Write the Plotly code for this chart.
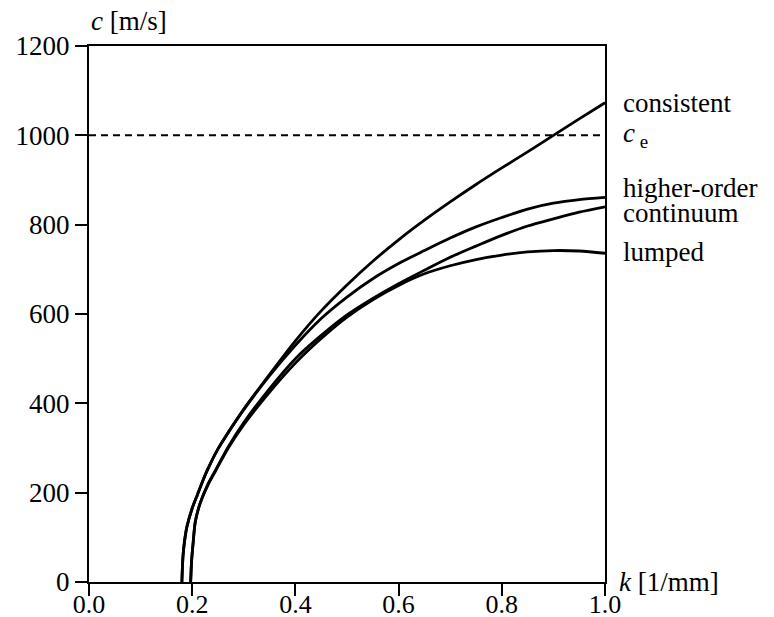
import plotly.graph_objects as go

# ---- data ----
k_cons = [0.180, 0.182, 0.185, 0.19, 0.20, 0.21, 0.22, 0.23, 0.25, 0.27, 0.30, 0.35, 0.40, 0.45,
          0.50, 0.55, 0.60, 0.65, 0.70, 0.75, 0.80, 0.85, 0.90, 0.95, 1.00]
c_cons = [0, 55, 90, 125, 165, 195, 225, 252, 298, 335, 387, 465, 540, 607,
          665, 718, 766, 810, 851, 890, 927, 963, 1000, 1037, 1073]

k_high = [0.180, 0.182, 0.185, 0.19, 0.20, 0.21, 0.22, 0.23, 0.25, 0.27, 0.30, 0.35, 0.40, 0.45,
          0.50, 0.55, 0.60, 0.65, 0.70, 0.75, 0.80, 0.85, 0.90, 0.95, 1.00]
c_high = [0, 55, 90, 125, 165, 195, 225, 252, 298, 335, 386, 462, 530, 590,
          638, 679, 713, 742, 770, 795, 816, 835, 848, 856, 861]

k_cont = [0.197, 0.199, 0.202, 0.206, 0.215, 0.23, 0.245, 0.27, 0.30, 0.35, 0.40, 0.45,
          0.50, 0.55, 0.60, 0.65, 0.70, 0.75, 0.80, 0.85, 0.90, 0.95, 1.00]
c_cont = [0, 50, 90, 135, 175, 218, 250, 303, 357, 433, 500, 552,
          598, 635, 668, 698, 727, 752, 776, 797, 813, 828, 840]

k_lump = [0.197, 0.199, 0.202, 0.206, 0.215, 0.23, 0.245, 0.27, 0.30, 0.35, 0.40, 0.45,
          0.50, 0.55, 0.60, 0.65, 0.70, 0.75, 0.80, 0.85, 0.90, 0.95, 1.00]
c_lump = [0, 50, 90, 135, 175, 216, 248, 300, 352, 425, 490, 545,
          593, 632, 664, 690, 708, 722, 732, 739, 742, 741, 736]

c_e = 1000
k_range = [0.0, 1.0]
c_range = [0, 1200]
x_ticks = [0.0, 0.2, 0.4, 0.6, 0.8, 1.0]
y_ticks = [0, 200, 400, 600, 800, 1000, 1200]

labels = [("consistent", 1072), ("<i>c</i><sub> e</sub>", 1000),
          ("higher-order", 883), ("continuum", 826), ("lumped", 738)]

FONT = "Liberation Serif"
FS = 26
LW = 2.8

fig = go.Figure()
for kk, cc in [(k_cons, c_cons), (k_high, c_high), (k_cont, c_cont), (k_lump, c_lump)]:
    fig.add_trace(go.Scatter(x=kk, y=cc, mode="lines",
                             line=dict(color="black", width=LW, shape="spline", smoothing=0.8),
                             showlegend=False, hoverinfo="skip"))

fig.add_trace(go.Scatter(x=[k_range[0], k_range[1] * 1.012], y=[c_e, c_e], mode="lines",
                         line=dict(color="black", width=2, dash="7px,5px"), cliponaxis=False,
                         showlegend=False, hoverinfo="skip"))

for txt, yv in labels:
    fig.add_annotation(x=1, xref="paper", xshift=16, y=yv, yref="y", text=txt, showarrow=False,
                       xanchor="left", yanchor="middle", font=dict(family=FONT, size=FS + 1, color="black"))

fig.add_annotation(x=0, xref="paper", y=1, yref="paper", yshift=8, text="<i>c</i> [m/s]", showarrow=False,
                   xanchor="left", yanchor="bottom", font=dict(family=FONT, size=FS + 1, color="black"))
fig.add_annotation(x=1, xref="paper", xshift=12, y=0, yref="y", text="<i>k</i> [1/mm]", showarrow=False,
                   xanchor="left", yanchor="middle", font=dict(family=FONT, size=FS + 1, color="black"))

fig.update_xaxes(range=k_range, tickvals=x_ticks, ticktext=[f"{v:.1f}" for v in x_ticks],
                 showgrid=False, zeroline=False, showline=True, linecolor="black", linewidth=2,
                 mirror=True, ticks="outside", ticklen=12, tickwidth=2, tickcolor="black",
                 ticklabelstandoff=-14,
                 tickfont=dict(family=FONT, size=FS, color="black"))
fig.update_yaxes(range=c_range, tickvals=y_ticks, showgrid=False, zeroline=False, showline=True,
                 linecolor="black", linewidth=2, mirror=True, ticks="outside", ticklen=12, tickwidth=2,
                 tickcolor="black", tickfont=dict(family=FONT, size=FS + 1, color="black"))

fig.update_layout(width=774, height=617, margin=dict(l=89, r=169, t=46, b=35, autoexpand=False),
                  paper_bgcolor="white", plot_bgcolor="white", showlegend=False)

fig.write_html("out.html")
